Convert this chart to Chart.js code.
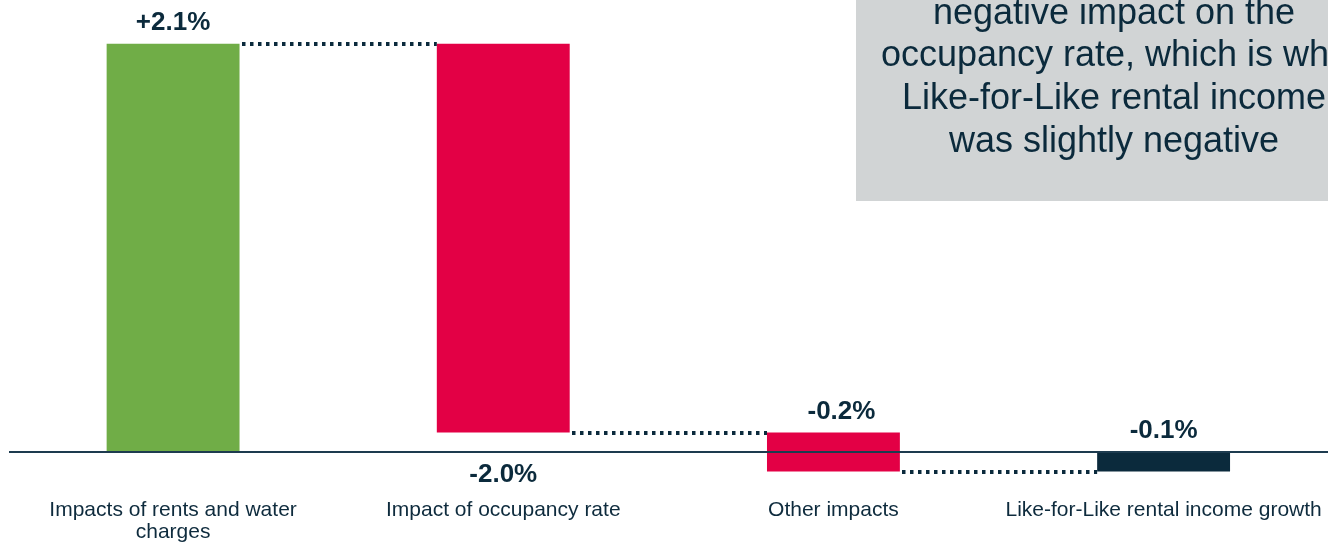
<!DOCTYPE html>
<html>
<head>
<meta charset="utf-8">
<script src="https://cdn.jsdelivr.net/npm/chart.js@4/dist/chart.umd.min.js"></script>
<style>
  html, body { margin: 0; padding: 0; background: #fff; overflow: hidden; }
  #wrap { width: 1328px; height: 543px; overflow: hidden; position: relative; }
  #wrap canvas { position: absolute; left: 0; top: 0; }
</style>
</head>
<body>
<div id="wrap"><canvas id="grafica_lfl" width="1332" height="543"></canvas></div>
<script>
// data
const categories = [
  ["Impacts of rents and water", "charges"],
  "Impact of occupancy rate",
  "Other impacts",
  "Like-for-Like rental income growth"
];
const impacts = [2.1, -2.0, -0.2];   // steps of the bridge
const lflGrowth = -0.1;              // resulting total
const barColors = ["#70ad47", "#e30045", "#e30045", "#0b2a3c"];
const boxLines = [
  "negative impact on the",
  "occupancy rate, which is why",
  "Like-for-Like rental income",
  "was slightly negative"
];

const NAVY = "#0b2a3c";
const FONT = "'Liberation Sans', Arial, sans-serif";

// floating bars: each step starts where the previous one ended, total starts at 0
const ranges = [];
const stepEnds = [];
let acc = 0;
impacts.forEach(v => {
  ranges.push([acc, acc + v]);
  acc = +(acc + v).toFixed(4);
  stepEnds.push(acc);
});
ranges.push([0, lflGrowth]);
const shownValues = impacts.concat([lflGrowth]);

function fmt(v) {
  return (v > 0 ? "+" : "") + v.toFixed(1) + "%";
}

const bridgePlugin = {
  id: "bridge",
  beforeDatasetsDraw(chart) {
    const ctx = chart.ctx;
    // grey comment box (top right, cut by the page edge)
    ctx.save();
    ctx.fillStyle = "#d1d4d5";
    ctx.fillRect(856, 0, 515, 201);
    ctx.fillStyle = NAVY;
    ctx.font = "36px " + FONT;
    ctx.textAlign = "center";
    ctx.textBaseline = "alphabetic";
    boxLines.forEach((t, i) => ctx.fillText(t, 1114, 23.5 + i * 42.7));
    ctx.restore();
  },
  afterDatasetsDraw(chart) {
    const ctx = chart.ctx;
    const y = chart.scales.y;
    const bars = chart.getDatasetMeta(0).data;
    const zero = y.getPixelForValue(0);

    ctx.save();
    // zero line, drawn over the bars
    ctx.strokeStyle = "#1d3b4f";
    ctx.lineWidth = 2;
    ctx.beginPath();
    ctx.moveTo(9, Math.round(zero));
    ctx.lineTo(chart.width, Math.round(zero));
    ctx.stroke();

    // dotted connectors between bars
    ctx.strokeStyle = NAVY;
    ctx.lineWidth = 4;
    ctx.lineCap = "butt";
    ctx.setLineDash([3.5, 4.5]);
    stepEnds.forEach((v, i) => {
      const py = Math.round(y.getPixelForValue(v));
      const a = bars[i], b = bars[i + 1];
      ctx.beginPath();
      ctx.moveTo(Math.round(a.x + a.width / 2) + 2, py);
      ctx.lineTo(b.x - b.width / 2, py);
      ctx.stroke();
    });
    ctx.setLineDash([]);

    // value labels
    ctx.fillStyle = NAVY;
    ctx.font = "bold 26px " + FONT;
    ctx.textAlign = "center";
    ctx.textBaseline = "alphabetic";
    shownValues.forEach((v, i) => {
      const bar = bars[i];
      const top = Math.min(bar.y, bar.base);
      let py;
      if (i === 1) py = zero + 30;   // this one sits under the axis line
      else py = top - 14;
      const px = bar.x + (i === 2 ? 8 : 0);
      ctx.fillText(fmt(v), px, py);
    });
    ctx.restore();
  }
};

new Chart("grafica_lfl", {
  type: "bar",
  data: {
    labels: categories,
    datasets: [{
      data: ranges,
      backgroundColor: barColors,
      borderWidth: 0,
      barPercentage: 0.4025,
      categoryPercentage: 1
    }]
  },
  options: {
    responsive: false,
    animation: false,
    layout: { padding: { left: 8, right: 2, top: 0, bottom: 0 } },
    plugins: {
      legend: { display: false },
      tooltip: { enabled: false }
    },
    scales: {
      x: {
        grid: { display: false, drawTicks: false },
        border: { display: false },
        afterFit(scale) { scale.height = 54; },
        ticks: {
          color: "#0e2b3d",
          padding: 10,
          maxRotation: 0,
          autoSkip: false,
          font: { family: FONT, size: 21, lineHeight: 1.05 }
        }
      },
      y: {
        display: false,
        min: -0.19,
        max: 2.325
      }
    }
  },
  plugins: [bridgePlugin]
});
</script>
</body>
</html>
